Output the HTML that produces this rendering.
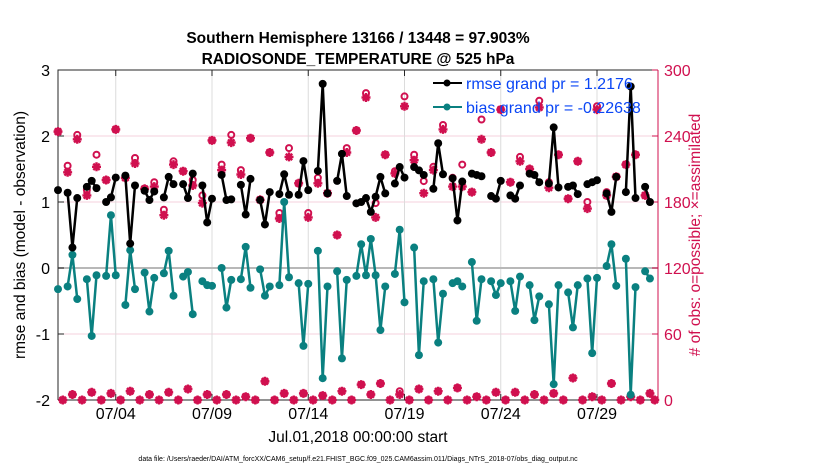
<!DOCTYPE html>
<html><head><meta charset="utf-8"><style>
body{margin:0;background:#fff;}
svg{display:block;font-family:"Liberation Sans",Arial,sans-serif;}
</style></head><body>
<svg id="chart" width="830" height="470" viewBox="0 0 830 470">
<rect width="830" height="470" fill="#fff"/>
<text x="358" y="43" font-size="15.5" font-weight="bold" text-anchor="middle">Southern Hemisphere 13166 / 13448 = 97.903%</text>
<text x="358" y="64" font-size="15.5" font-weight="bold" text-anchor="middle">RADIOSONDE_TEMPERATURE @ 525 hPa</text>
<g id="grid"></g>
<g id="axes"></g>
<g id="marks"></g>
<g>
 <line x1="433" y1="83" x2="462" y2="83" stroke="#000" stroke-width="2"/>
 <circle cx="447" cy="83" r="3.5" fill="#000"/>
 <text x="466" y="89" font-size="16" fill="#0a46f5">rmse grand pr = 1.2176</text>
 <line x1="433" y1="107" x2="462" y2="107" stroke="#0a8080" stroke-width="2"/>
 <circle cx="447" cy="107" r="3.5" fill="#0a8080"/>
 <text x="466" y="113" font-size="16" fill="#0a46f5">bias grand pr = -0.22638</text>
</g>
<text x="358" y="442" font-size="15.5" text-anchor="middle">Jul.01,2018 00:00:00 start</text>
<text transform="translate(25,235) rotate(-90)" font-size="15.5" text-anchor="middle">rmse and bias (model - observation)</text>
<text transform="translate(700,235) rotate(-90)" font-size="15.5" text-anchor="middle" fill="#d0104f"># of obs: o=possible; ×=assimilated</text>
<text x="358" y="461" font-size="7" text-anchor="middle">data file: /Users/raeder/DAI/ATM_forcXX/CAM6_setup/f.e21.FHIST_BGC.f09_025.CAM6assim.011/Diags_NTrS_2018-07/obs_diag_output.nc</text>
</svg>
<script>
const N=null;
const rmse=[1.18,N,1.14,0.31, 1.06,N,1.23,1.32, 1.21,N,1.0,1.07, 1.37,N,1.40,0.37, 1.25,N,1.17,1.03,
1.16,N,1.07,1.38, 1.27,N,1.27,1.06, 1.43,N,1.25,0.69, 1.05,N,1.41,1.03, 1.04,N,1.26,0.81,
1.35,N,1.03,0.66, 1.15,N,1.12,1.42, 1.11,N,1.11,1.62, 1.18,N,1.47,2.79, 1.13,N,1.32,1.73,
1.09,N,0.98,1.0, 1.06,0.85,1.08,1.38, 1.13,N,1.28,1.53, 1.37,N,1.53,1.48, 1.41,N,1.2,1.89,
1.42,N,1.36,0.72, 1.31,N,1.43,1.41, 1.39,N,1.09,1.05, 1.32,N,1.1,1.05, 1.25,N,1.43,1.41,
1.3,N,1.28,2.13, 1.22,N,1.23,1.25, 1.12,N,1.27,1.3, 1.33,N,1.13,0.85, 1.38,N,1.15,2.75,
1.06,N,1.23,1.0, N];
const bias=[-0.32,N,-0.28,0.2, -0.47,N,-0.17,-1.03, -0.11,N,-0.12,0.8, -0.11,N,-0.56,0.27, -0.32,N,-0.07,-0.66,
-0.15,N,-0.08,0.26, -0.42,N,-0.13,-0.06, -0.7,N,-0.2,-0.26, -0.27,N,0.0,-0.6, -0.18,N,-0.17,0.32,
-0.3,N,-0.02,-0.42, -0.28,N,-0.26,1.0, -0.14,N,-0.23,-1.18, -0.24,N,0.26,-1.67, -0.28,N,-0.05,-1.37,
-0.18,N,-0.12,0.36, -0.11,0.44,-0.11,-0.94, -0.28,N,-0.09,0.58, -0.52,N,0.31,-1.32, -0.2,N,-0.17,-1.13,
-0.39,N,-0.23,-0.2, -0.28,N,0.09,-0.8, -0.17,N,-0.2,-0.41, -0.23,N,-0.2,-0.65, -0.13,N,-0.26,-0.79,
-0.43,N,-0.55,-1.76, -0.26,N,-0.37,-0.9, -0.26,N,-0.16,-1.29, -0.15,N,0.03,0.36, -0.27,N,0.14,-1.92,
-0.29,N,-0.05,-0.16, N];
const possible=[244,0,213,5, 241,0,191,7, 223,0,200,6, 246,0,202,8, 220,0,192,5, 198,0,173,7, 217,0,208,10,
200,0,186,5, 236,0,214,5, 241,0,209,3, 238,0,182,17, 225,0,170,6, 229,0,197,6, 170,0,202,4, 188,0,150,8,
229,0,245,14, 279,5,179,15, 223,0,208,8, 276,0,223,10, 199,0,212,8, 250,0,202,11, 214,0,189,3, 255,0,225,7,
264,0,198,7, 221,0,210,5, 272,0,198,6, 223,0,183,20, 217,0,180,3, 267,0,189,15, 203,0,214,3, 223,0,186,6, 0];
const assimilated=[244,0,207,5, 237,0,186,7, 212,0,200,6, 246,0,202,8, 215,0,192,5, 194,0,168,7, 214,0,208,10,
195,0,179,5, 236,0,209,5, 234,0,205,3, 238,0,182,17, 225,0,165,6, 221,0,197,6, 166,0,197,4, 188,0,150,8,
225,0,245,14, 275,5,166,15, 223,0,206,5, 267,0,218,10, 188,0,209,8, 246,0,194,11, 194,0,189,3, 237,0,225,7,
264,0,198,7, 217,0,210,5, 266,0,193,6, 223,0,183,20, 217,0,174,3, 264,0,186,15, 203,0,214,3, 223,0,186,6, 0];
const xTickDays=[3,8,13,18,23,28];
const xTickLabels=["07/04","07/09","07/14","07/19","07/24","07/29"];
const yTicks=[-2,-1,0,1,2,3];
const rTicks=[0,60,120,180,240,300];

const L=58,R=658,T=70,B=400;
const xs=d=>L+d*19.25;
const ys=v=>T+(3-v)*(B-T)/5;
const yr=c=>B-c*(B-T)/300;
const NS="http://www.w3.org/2000/svg";
function mk(tag,attrs,parent){const e=document.createElementNS(NS,tag);for(const k in attrs)e.setAttribute(k,attrs[k]);parent.appendChild(e);return e;}
const grid=document.getElementById('grid'),axes=document.getElementById('axes'),marks=document.getElementById('marks');
const RED="#d0104f";
rTicks.forEach(c=>{if(c>0&&c<300){const l=mk('line',{x1:L,x2:R,y1:yr(c),y2:yr(c),stroke:"#f5d0dc","stroke-width":1},grid);

}});
xTickDays.forEach(d=>{const l=mk('line',{x1:xs(d),x2:xs(d),y1:T,y2:B,stroke:"#dcdcdc","stroke-width":1},grid);

});
const zl=mk('line',{x1:L,x2:R,y1:ys(0),y2:ys(0),stroke:"#b8b8b8","stroke-width":2},grid);


const fr=mk('path',{d:`M${L},${B}V${T}H${R}M${L},${B}H${R}`,fill:"none",stroke:"#262626","stroke-width":1},axes);


const ra=mk('line',{x1:R,x2:R,y1:T,y2:B,stroke:RED,"stroke-width":1},axes);


yTicks.forEach(v=>{mk('line',{x1:L,x2:L+6,y1:ys(v),y2:ys(v),stroke:"#262626"},axes);
const t=mk('text',{x:L-8,y:ys(v)+6,"font-size":16,"text-anchor":"end"},axes);t.textContent=v;

});
rTicks.forEach(c=>{mk('line',{x1:R-6,x2:R,y1:yr(c),y2:yr(c),stroke:RED},axes);
const t=mk('text',{x:R+6,y:yr(c)+6,"font-size":16,fill:RED},axes);t.textContent=c;

});
xTickDays.forEach((d,i)=>{mk('line',{x1:xs(d),x2:xs(d),y1:B,y2:B-6,stroke:"#262626"},axes);mk('line',{x1:xs(d),x2:xs(d),y1:T,y2:T+6,stroke:"#262626"},axes);
const t=mk('text',{x:xs(d),y:B+19,"font-size":16,"text-anchor":"middle"},axes);t.textContent=xTickLabels[i];

});
possible.forEach((c,i)=>{const x=xs(i/4),y=yr(c);
const o=mk('circle',{cx:x,cy:y,r:3,fill:"none",stroke:RED,"stroke-width":2},marks);

});
assimilated.forEach((c,i)=>{const x=xs(i/4),y=yr(c),s=4.5;
const p=mk('path',{d:`M${x-s},${y}H${x+s}M${x},${y-s}V${y+s}M${x-3.2},${y-3.2}L${x+3.2},${y+3.2}M${x-3.2},${y+3.2}L${x+3.2},${y-3.2}`,stroke:RED,"stroke-width":2.4,fill:"none"},marks);

});
function series(vals,color,name){
 let d="";let pen=false;
 vals.forEach((v,i)=>{if(v===null){pen=false;return;}d+=(pen?"L":"M")+xs(i/4)+","+ys(v);pen=true;});
 const p=mk('path',{d:d,fill:"none",stroke:color,"stroke-width":2.5,"stroke-linejoin":"round"},marks);
 
 
 vals.forEach((v,i)=>{if(v===null)return;const c=mk('circle',{cx:xs(i/4),cy:ys(v),r:4,fill:color},marks);
 
 });
}
series(bias,"#0a8080","bias");
series(rmse,"#000","rmse");
</script>
</body></html>
